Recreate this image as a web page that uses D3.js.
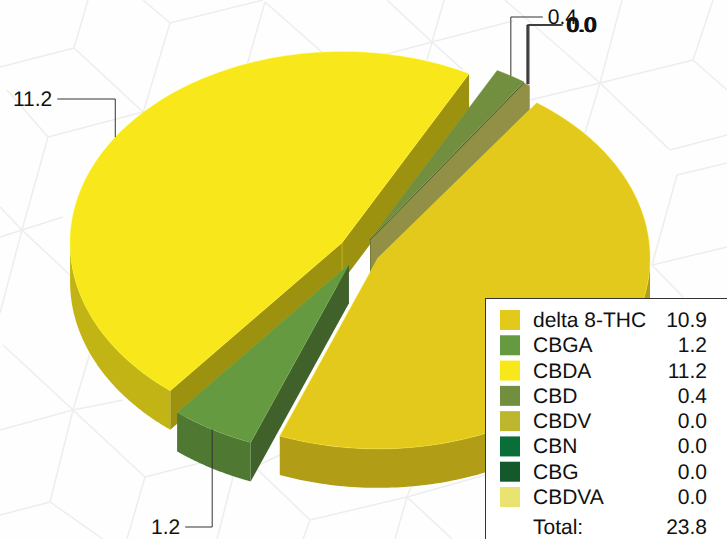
<!DOCTYPE html>
<html>
<head>
<meta charset="utf-8">
<script src="https://cdn.jsdelivr.net/npm/d3@7"></script>
<style>
  body { margin: 0; background: #fefefe; overflow: hidden; }
  svg { display: block; }
  text { font-family: "Liberation Sans", Arial, sans-serif; fill: #111; text-rendering: geometricPrecision; }
</style>
</head>
<body>
<svg id="chart"></svg>
<script>
const categories = ["delta 8-THC", "CBGA", "CBDA", "CBD", "CBDV", "CBN", "CBG", "CBDVA"];
// the printed labels are these rounded to 1 decimal
const amounts = [10.94, 1.19, 11.15, 0.44, 0.02, 0.02, 0.02, 0.02];
const colors = ["#E4C91D", "#659A41", "#F8E71A", "#728E3F", "#BDB62F", "#0A6E38", "#14592B", "#E8E46F"];
const totalLabel = "23.8";

const width = 727, height = 539;
const center = { x: 360, y: 251 };
const rx = 272, ry = 191, depth = 39;
const tilt = ry / rx;
const startDeg = 35.7;
const fontSize = "21px";

// how far each slice is pulled out of the pie, px
const explode = [20.5, 22, 21.5, 19.5, 19, 19, 19, 19];
// y of the horizontal leader run, null = label sits behind the legend
const leaderY = [null, 527, 99, 17, 25, 25, 25, 25];
const leaderRun = [0, 27, 58, 32, 34, 34, 34, 34];

// background cube pattern
const bgLines = [
  [0,67,74,48],[74,48,88,0],[74,48,143,112],[170,23,143,113],[170,23,143,0],[170,23,263,0],
  [265,2,247,65],[265,2,323,53],[7,90,48,137],[48,137,143,112],[48,137,22,230],
  [387,0,432,42],[432,42,444,0],[432,42,427,60],[432,42,513,21],[432,42,383,55],[432,42,463,70],
  [505,0,600,83],[600,83,622,0],[600,83,693,60],[530,100,600,83],[600,83,585,133],[600,83,670,150],
  [670,150,727,135],[693,60,713,0],[693,60,727,90],[677,175,727,163],[677,175,652,265],
  [652,265,727,247],[652,265,683,297],
  [22,230,0,237],[22,230,63,217],[0,207,22,230],[22,230,70,275],[22,230,0,313],
  [3,345,73,410],[73,410,0,430],[73,410,50,502],[73,410,90,353],[73,410,123,400],[73,410,145,477],
  [145,477,200,463],[145,477,127,539],[50,502,0,515],[50,502,103,539],
  [233,477,217,539],[233,477,280,455],[258,470,310,520],[310,520,407,497],[310,520,303,539],
  [407,497,485,475],[407,497,412,484],[407,497,452,539],[407,497,395,539]
];

const svg = d3.select("#chart").attr("width", width).attr("height", height);

svg.append("g").selectAll("line")
  .data(bgLines)
  .join("line")
  .attr("x1", d => d[0]).attr("y1", d => d[1])
  .attr("x2", d => d[2]).attr("y2", d => d[3])
  .attr("stroke", "#eceeee")
  .attr("stroke-width", 1.5);

const rad = d => d * Math.PI / 180;
const shade = (c, k) => {
  const o = d3.rgb(c);
  return d3.rgb(o.r * k, o.g * k, o.b * k).formatHex();
};

const pie = d3.pie().sort(null)
  .startAngle(rad(startDeg))
  .endAngle(rad(startDeg) + 2 * Math.PI);

const slices = pie(amounts).map((d, i) => {
  const mid = (d.startAngle + d.endAngle) / 2;
  return {
    ...d, i,
    mid,
    zero: d.value < 0.05,
    ax: center.x + explode[i] * Math.sin(mid),
    ay: center.y - explode[i] * Math.cos(mid) * tilt
  };
});

const rim = (s, a) => [s.ax + rx * Math.sin(a), s.ay - ry * Math.cos(a)];
const arcPts = (s, a0, a1) => d3.range(0, 1.0001, 1 / 120).map(t => rim(s, a0 + (a1 - a0) * t));
const line = d3.line();
const down = p => [p[0], p[1] + depth];

const g = svg.append("g");

function drawSlice(s) {
  const c = colors[s.i];
  const apex = [s.ax, s.ay];

  // cut faces, only the ones that look towards the viewer
  const faces = [];
  if (s.zero) faces.push(s.startAngle, s.endAngle);
  else if (s.i === 1 || s.i === 2) faces.push(s.startAngle);
  if (s.i === 2 || s.i === 3) faces.push(s.endAngle);
  faces.forEach(a => {
    const p = rim(s, a);
    g.append("path")
      .attr("d", line([apex, p, down(p), down(apex)]) + "Z")
      .attr("fill", shade(s.zero ? colors[7] : c, 0.63));
  });

  // outer rim wall, front half only
  const TAU = 2 * Math.PI;
  [0, TAU].forEach(shift => {
    const a0 = Math.max(s.startAngle, Math.PI / 2 + shift);
    const a1 = Math.min(s.endAngle, 3 * Math.PI / 2 + shift);
    if (a1 > a0) {
      const top = arcPts(s, a0, a1);
      g.append("path")
        .attr("d", line(top.concat(top.slice().reverse().map(down))) + "Z")
        .attr("fill", shade(c, 0.78));
    }
  });

  if (!s.zero) {
    const pts = [apex].concat(arcPts(s, s.startAngle, s.endAngle));
    g.append("path")
      .attr("d", line(pts) + "Z")
      .attr("fill", c)
      .attr("stroke", d3.rgb(c).brighter(0.5))
      .attr("stroke-width", 0.5)
      .attr("stroke-opacity", 0.7);
  }
  // seam down the inner corner
  if (s.i === 2) {
    g.append("line")
      .attr("x1", s.ax).attr("y1", s.ay)
      .attr("x2", s.ax).attr("y2", s.ay + depth)
      .attr("stroke", c).attr("stroke-opacity", 0.35).attr("stroke-width", 1);
  }
}

// back to front
[2, 3, 4, 5, 6, 7, 0, 1].forEach(i => drawSlice(slices[i]));

// leaders and value labels, the near-zero ones share one anchor and pile up
slices.forEach(s => {
  if (leaderY[s.i] === null) return;
  const anchor = s.zero ? slices[6] : s;
  const p = rim(anchor, anchor.mid);
  const dir = Math.sin(anchor.mid) >= 0 ? 1 : -1;
  const x0 = p[0] + (s.zero ? (s.i - 5.5) * 0.7 : 0);
  const y = leaderY[s.i];
  const x1 = x0 + dir * leaderRun[s.i];
  svg.append("path")
    .attr("d", line([[x0, p[1]], [x0, y], [x1, y]]))
    .attr("fill", "none")
    .attr("stroke", "#333")
    .attr("stroke-width", 1);
  svg.append("text")
    .attr("x", x1 + dir * 5)
    .attr("y", y + 7)
    .attr("text-anchor", dir > 0 ? "start" : "end")
    .style("font-size", fontSize)
    .text(s.value.toFixed(1));
});

// Legend
const legend = svg.append("g");
legend.append("rect")
  .attr("x", 485.5).attr("y", 298.5)
  .attr("width", 260).attr("height", 260)
  .attr("fill", "#fff").attr("stroke", "#333").attr("stroke-width", 1);

const rowY = d3.scaleLinear().domain([0, 7]).range([320, 497]);

categories.forEach((name, i) => {
  legend.append("rect")
    .attr("x", 500).attr("y", rowY(i) - 10)
    .attr("width", 20).attr("height", 20)
    .attr("fill", colors[i]);
  legend.append("text")
    .attr("x", 533).attr("y", rowY(i) + 7)
    .style("font-size", fontSize)
    .text(name);
  legend.append("text")
    .attr("x", 707).attr("y", rowY(i) + 7)
    .attr("text-anchor", "end")
    .style("font-size", fontSize)
    .text(amounts[i].toFixed(1));
});

legend.append("text")
  .attr("x", 533).attr("y", 534)
  .style("font-size", fontSize)
  .text("Total:");
legend.append("text")
  .attr("x", 707).attr("y", 534)
  .attr("text-anchor", "end")
  .style("font-size", fontSize)
  .text(totalLabel);
</script>
</body>
</html>
